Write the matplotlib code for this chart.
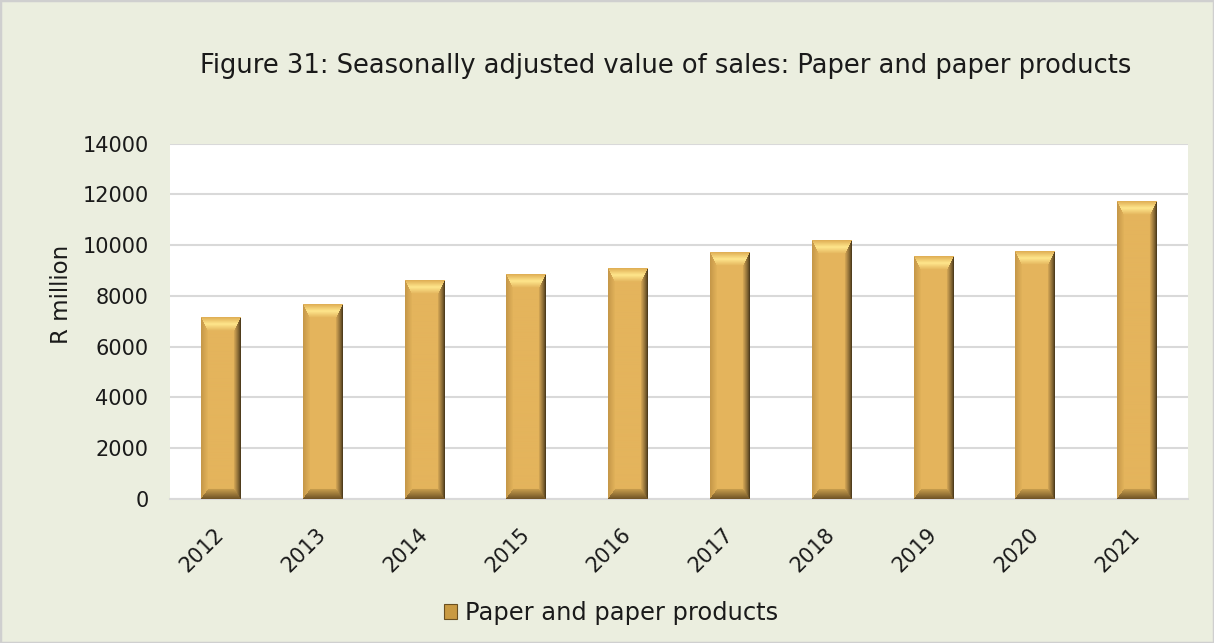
import numpy as np
import matplotlib
matplotlib.use('Agg')
import matplotlib.pyplot as plt
from matplotlib.patches import Rectangle

years = ['2012', '2013', '2014', '2015', '2016', '2017', '2018', '2019', '2020', '2021']
values = [7130, 7670, 8600, 8825, 9060, 9720, 10190, 9550, 9760, 11710]
yticks = [0, 2000, 4000, 6000, 8000, 10000, 12000, 14000]
title = 'Figure 31: Seasonally adjusted value of sales: Paper and paper products'
ylabel = 'R million'
series_name = 'Paper and paper products'

W, H, DPI = 1214, 643, 100
BG = '#EBEEDF'
FONT = 'DejaVu Sans'
plt.rcParams['font.family'] = [FONT]

fig = plt.figure(figsize=(W / DPI, H / DPI), dpi=DPI, facecolor=BG)
ax = fig.add_axes([170 / W, 1 - 499 / H, (1188 - 170) / W, (499 - 143.5) / H])
ax.set_facecolor('white')

x = np.arange(len(years))
bars = ax.bar(x, values, width=0.39, color='#E2B25A', zorder=2)
ax.set_xlim(-0.5, len(years) - 0.5)
ax.set_ylim(0, 14000)
ax.set_yticks(yticks)
ax.set_yticklabels([str(v) for v in yticks], fontsize=15, color='#1a1a1a')
ax.set_xticks(x)
ax.set_xticklabels(years, rotation=45, ha='right', va='center',
                   rotation_mode='anchor', fontsize=15, color='#1a1a1a')
ax.tick_params(axis='y', length=0, pad=15.5)
ax.tick_params(axis='x', length=0, pad=23)
ax.yaxis.grid(True, color='#D9D9D9', linewidth=1.5, zorder=0)
ax.set_axisbelow(True)
for s in ['left', 'right', 'top']:
    ax.spines[s].set_visible(False)
ax.spines['bottom'].set_color('#D9D9D9')
ax.spines['bottom'].set_linewidth(1.5)
ax.set_ylabel(ylabel, fontsize=16.5, color='#1a1a1a')
ax.yaxis.set_label_coords(-97 / (1188 - 170), (499 - 294) / (499 - 143.5))

fig.text(666 / W, 1 - 66 / H, title, ha='center', va='center',
         fontsize=18.5, color='#1a1a1a')


def lerp(c0, c1, t):
    c0 = np.array(c0, float) / 255
    c1 = np.array(c1, float) / 255
    return c0[None, None, :] * (1 - t[..., None]) + c1[None, None, :] * t[..., None]


def bevel(w, h, bs=7.0, bt=14.0, bb=10.0):
    w = max(int(round(w)), 2)
    h = max(int(round(h)), 2)
    X, Y = np.meshgrid(np.arange(w) + 0.5, np.arange(h) + 0.5)
    dl = X / bs
    dr = (w - X) / bs
    dt = Y / bt
    db = (h - Y) / bb
    D = np.stack([dl, dr, dt, db])
    idx = np.argmin(D, axis=0)
    dmin = np.clip(np.min(D, axis=0), 0, 1)
    img = np.empty((h, w, 3))
    img[:] = np.array([228, 180, 92]) / 255
    left = lerp((196, 150, 72), (226, 178, 90), dmin)
    right = lerp((58, 44, 20), (214, 168, 86), dmin ** 0.75)
    tt = dmin
    top_a = lerp((222, 172, 82), (255, 230, 140), np.clip(tt * 2, 0, 1))
    top_b = lerp((255, 230, 140), (226, 178, 90), np.clip(tt * 2 - 1, 0, 1))
    top = np.where((tt < 0.5)[..., None], top_a, top_b)
    bot = lerp((110, 82, 38), (200, 158, 78), dmin)
    m = dmin < 1
    for k, col in enumerate([left, right, top, bot]):
        sel = m & (idx == k)
        img[sel] = col[sel]
    return img


fig.canvas.draw()
for b in bars:
    bb_ = b.get_window_extent()
    img = bevel(bb_.width, bb_.height)
    x0 = b.get_x()
    ax.imshow(img, extent=(x0, x0 + b.get_width(), 0, b.get_height()),
              aspect='auto', interpolation='bilinear', zorder=3)
ax.set_xlim(-0.5, len(years) - 0.5)
ax.set_ylim(0, 14000)

handle = Rectangle((0, 0), 1, 1, facecolor='#C99A42', edgecolor='#6B5020', linewidth=0.8)
fig.legend([handle], [series_name], loc='center', bbox_to_anchor=(611 / W, 1 - 613 / H),
           frameon=False, fontsize=17.4, handlelength=0.55, handleheight=0.55,
           handletextpad=0.3, labelcolor='#1a1a1a')

fig.patches.append(Rectangle((0, 0), 1, 1, transform=fig.transFigure, fill=False,
                             edgecolor='#CFCFCF', linewidth=2.5))

fig.savefig('out.png', dpi=DPI, facecolor=BG)
